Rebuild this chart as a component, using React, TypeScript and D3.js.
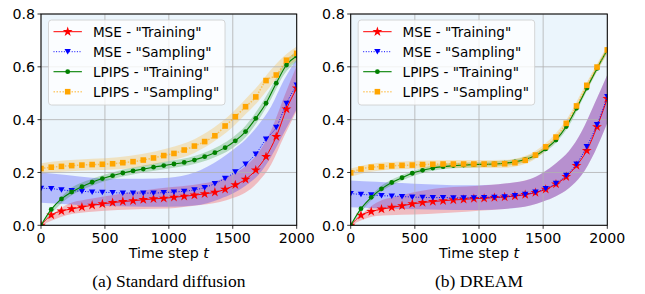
import React from "react";
import * as d3 from "d3";

const T = [0, 80, 160, 240, 320, 400, 480, 560, 640, 720, 800, 880, 960, 1040, 1120, 1200, 1280, 1360, 1440, 1520, 1600, 1680, 1760, 1840, 1920, 2000];

const L_MSE_TRAIN = [0.0, 0.039, 0.054, 0.062, 0.069, 0.076, 0.081, 0.086, 0.090, 0.093, 0.097, 0.100, 0.102, 0.106, 0.110, 0.114, 0.119, 0.125, 0.136, 0.153, 0.174, 0.209, 0.260, 0.336, 0.440, 0.519];
const L_MSE_SAMP = [0.140, 0.139, 0.134, 0.131, 0.129, 0.126, 0.125, 0.124, 0.122, 0.122, 0.122, 0.122, 0.124, 0.126, 0.129, 0.134, 0.143, 0.158, 0.178, 0.202, 0.232, 0.270, 0.326, 0.371, 0.462, 0.531];
const L_LP_TRAIN = [0.0, 0.060, 0.100, 0.126, 0.146, 0.163, 0.177, 0.188, 0.198, 0.206, 0.213, 0.220, 0.226, 0.232, 0.238, 0.247, 0.260, 0.275, 0.294, 0.320, 0.355, 0.405, 0.462, 0.538, 0.607, 0.641];
const L_LP_SAMP = [0.215, 0.220, 0.223, 0.226, 0.228, 0.230, 0.231, 0.233, 0.237, 0.241, 0.247, 0.255, 0.264, 0.272, 0.285, 0.300, 0.317, 0.339, 0.376, 0.411, 0.449, 0.486, 0.548, 0.569, 0.625, 0.651];

const R_MSE_TRAIN = [0.0, 0.038, 0.052, 0.061, 0.068, 0.074, 0.081, 0.086, 0.090, 0.093, 0.096, 0.098, 0.101, 0.102, 0.105, 0.107, 0.111, 0.116, 0.124, 0.136, 0.156, 0.184, 0.226, 0.283, 0.373, 0.480];
const R_MSE_SAMP = [0.120, 0.117, 0.115, 0.112, 0.111, 0.109, 0.107, 0.106, 0.105, 0.105, 0.104, 0.104, 0.104, 0.105, 0.106, 0.108, 0.112, 0.117, 0.126, 0.139, 0.159, 0.189, 0.232, 0.298, 0.381, 0.487];
const R_LP_TRAIN = [0.0, 0.063, 0.106, 0.138, 0.162, 0.180, 0.197, 0.208, 0.217, 0.222, 0.226, 0.228, 0.230, 0.231, 0.232, 0.235, 0.240, 0.249, 0.264, 0.289, 0.323, 0.374, 0.443, 0.519, 0.594, 0.664];
const R_LP_SAMP = [0.199, 0.213, 0.220, 0.222, 0.225, 0.227, 0.228, 0.230, 0.231, 0.232, 0.232, 0.232, 0.232, 0.232, 0.232, 0.233, 0.237, 0.246, 0.266, 0.297, 0.334, 0.386, 0.452, 0.530, 0.599, 0.664];

// shaded bands (lower / upper) on a coarser grid
const BAND_T = [0, 200, 400, 600, 800, 1000, 1200, 1400, 1500, 1600, 1700, 1800, 1900, 2000];

const L_MSE_TRAIN_LO = [0, 0.038, 0.051, 0.058, 0.062, 0.064, 0.074, 0.088, 0.103, 0.124, 0.165, 0.23, 0.335, 0.434];
const L_MSE_TRAIN_HI = [0, 0.078, 0.101, 0.118, 0.132, 0.144, 0.154, 0.172, 0.193, 0.224, 0.275, 0.36, 0.485, 0.604];
const L_MSE_SAMP_LO = [0.085, 0.08, 0.075, 0.072, 0.07, 0.07, 0.075, 0.1, 0.12, 0.15, 0.19, 0.26, 0.35, 0.44];
const L_MSE_SAMP_HI = [0.2, 0.19, 0.18, 0.176, 0.176, 0.18, 0.2, 0.25, 0.285, 0.325, 0.38, 0.45, 0.55, 0.63];
const L_LP_TRAIN_LO = [0, 0.1, 0.15, 0.18, 0.2, 0.215, 0.232, 0.266, 0.293, 0.333, 0.398, 0.478, 0.57, 0.62];
const L_LP_TRAIN_HI = [0, 0.128, 0.176, 0.206, 0.226, 0.243, 0.262, 0.302, 0.333, 0.377, 0.442, 0.522, 0.61, 0.662];
const L_LP_SAMP_LO = [0.195, 0.204, 0.208, 0.212, 0.223, 0.243, 0.274, 0.333, 0.372, 0.42, 0.47, 0.53, 0.59, 0.625];
const L_LP_SAMP_HI = [0.235, 0.246, 0.252, 0.258, 0.271, 0.293, 0.326, 0.387, 0.428, 0.478, 0.53, 0.59, 0.64, 0.677];

const R_MSE_TRAIN_LO = [0, 0.035, 0.04, 0.043, 0.048, 0.055, 0.062, 0.075, 0.09, 0.11, 0.14, 0.19, 0.275, 0.387];
const R_MSE_TRAIN_HI = [0, 0.085, 0.115, 0.135, 0.145, 0.15, 0.158, 0.175, 0.2, 0.235, 0.28, 0.355, 0.46, 0.57];
const R_MSE_SAMP_LO = [0.068, 0.065, 0.062, 0.06, 0.058, 0.058, 0.062, 0.075, 0.09, 0.11, 0.14, 0.19, 0.275, 0.387];
const R_MSE_SAMP_HI = [0.17, 0.165, 0.16, 0.155, 0.152, 0.152, 0.158, 0.175, 0.2, 0.235, 0.28, 0.355, 0.46, 0.57];
const R_LP_TRAIN_LO = [0, 0.113, 0.17, 0.203, 0.216, 0.22, 0.225, 0.246, 0.273, 0.313, 0.376, 0.47, 0.565, 0.654];
const R_LP_TRAIN_HI = [0, 0.133, 0.19, 0.223, 0.236, 0.24, 0.245, 0.266, 0.293, 0.333, 0.396, 0.49, 0.585, 0.674];
const R_LP_SAMP_LO = [0.185, 0.206, 0.212, 0.215, 0.217, 0.217, 0.218, 0.241, 0.273, 0.319, 0.385, 0.475, 0.565, 0.649];
const R_LP_SAMP_HI = [0.215, 0.236, 0.242, 0.245, 0.247, 0.247, 0.248, 0.271, 0.303, 0.349, 0.415, 0.505, 0.595, 0.679];

const X_TICKS = [0, 500, 1000, 1500, 2000];
const Y_TICKS = [0.0, 0.2, 0.4, 0.6, 0.8];
const LEGEND_LABELS = ['MSE - "Training"', 'MSE - "Sampling"', 'LPIPS - "Training"', 'LPIPS - "Sampling"'];
const CAPTIONS = ["(a) Standard diffusion", "(b) DREAM"];

type Style = {
  color: string;
  dash?: string;
  width: number;
  lineOpacity: number;
  marker: "star" | "tri" | "circle" | "square";
};

const STYLES: Style[] = [
  { color: "#ff0000", width: 1, lineOpacity: 1, marker: "star" },
  { color: "#0000ff", width: 1, lineOpacity: 1, dash: "1,1.6", marker: "tri" },
  { color: "#008000", width: 1.1, lineOpacity: 1, marker: "circle" },
  { color: "#ffa500", width: 1.5, lineOpacity: 0.55, dash: "1.5,1.5", marker: "square" },
];

const starPath = d3.symbol().type(d3.symbolStar).size(30)()!;

function Marker({ kind, x, y, color }: { kind: Style["marker"]; x: number; y: number; color: string }) {
  if (kind === "star") return <path d={starPath} transform={`translate(${x},${y})`} fill={color} />;
  if (kind === "tri") return <path d="M-3.2,-2.6L3.2,-2.6L0,2.9Z" transform={`translate(${x},${y})`} fill={color} />;
  if (kind === "circle") return <circle cx={x} cy={y} r={2.4} fill={color} />;
  return <rect x={x - 2.8} y={y - 2.8} width={5.6} height={5.6} fill={color} />;
}

type PanelData = {
  lines: number[][];
  lo: number[][];
  hi: number[][];
};

const PANELS: PanelData[] = [
  {
    lines: [L_MSE_TRAIN, L_MSE_SAMP, L_LP_TRAIN, L_LP_SAMP],
    lo: [L_MSE_TRAIN_LO, L_MSE_SAMP_LO, L_LP_TRAIN_LO, L_LP_SAMP_LO],
    hi: [L_MSE_TRAIN_HI, L_MSE_SAMP_HI, L_LP_TRAIN_HI, L_LP_SAMP_HI],
  },
  {
    lines: [R_MSE_TRAIN, R_MSE_SAMP, R_LP_TRAIN, R_LP_SAMP],
    lo: [R_MSE_TRAIN_LO, R_MSE_SAMP_LO, R_LP_TRAIN_LO, R_LP_SAMP_LO],
    hi: [R_MSE_TRAIN_HI, R_MSE_SAMP_HI, R_LP_TRAIN_HI, R_LP_SAMP_HI],
  },
];

const FONT = "'DejaVu Sans', sans-serif";
const FS = 14.2;
const FS_LEG = 13.6;

function Panel({ idx, left, right }: { idx: number; left: number; right: number }) {
  const top = 14;
  const bottom = 225.3;
  const x = d3.scaleLinear().domain([0, 2000]).range([left, right]);
  const y = d3.scaleLinear().domain([0, 0.8]).range([bottom, top]);
  const data = PANELS[idx];
  const clipId = `clip${idx}`;
  const line = d3
    .line<number>()
    .x((_, i) => x(T[i]))
    .y((d) => y(d))
    .curve(d3.curveMonotoneX);
  const area = (lo: number[], hi: number[]) =>
    d3
      .area<number>()
      .x((_, i) => x(BAND_T[i]))
      .y0((_, i) => y(lo[i]))
      .y1((_, i) => y(hi[i]))
      .curve(d3.curveMonotoneX)(lo) || "";
  const legX = left + 7.5;
  const legY = 20;
  const cx = (left + right) / 2;
  return (
    <g>
      <defs>
        <clipPath id={clipId}>
          <rect x={left} y={top} width={right - left} height={bottom - top} />
        </clipPath>
      </defs>
      <rect x={left} y={top} width={right - left} height={bottom - top} fill="#ebf5fc" />
      <g clipPath={`url(#${clipId})`}>
        {data.lines.map((_, k) => (
          <path key={k} d={area(data.lo[k], data.hi[k])} fill={STYLES[k].color} fillOpacity={0.23} />
        ))}
      </g>
      {X_TICKS.map((t) => (
        <line key={"gx" + t} x1={x(t)} x2={x(t)} y1={top} y2={bottom} stroke="#b0b0b0" strokeWidth={0.8} />
      ))}
      {Y_TICKS.map((v) => (
        <line key={"gy" + v} x1={left} x2={right} y1={y(v)} y2={y(v)} stroke="#b0b0b0" strokeWidth={0.8} />
      ))}
      <g clipPath={`url(#${clipId})`}>
        {data.lines.map((vals, k) => (
          <g key={k}>
            <path
              d={line(vals) || ""}
              fill="none"
              stroke={STYLES[k].color}
              strokeWidth={STYLES[k].width}
              strokeOpacity={STYLES[k].lineOpacity}
              strokeDasharray={STYLES[k].dash}
            />
            {vals.map((v, i) => (
              <Marker key={i} kind={STYLES[k].marker} x={x(T[i])} y={y(v)} color={STYLES[k].color} />
            ))}
          </g>
        ))}
      </g>
      <rect x={left} y={top} width={right - left} height={bottom - top} fill="none" stroke="#000" strokeWidth={1} />
      {X_TICKS.map((t) => (
        <g key={"xt" + t}>
          <line x1={x(t)} x2={x(t)} y1={bottom} y2={bottom + 3.5} stroke="#000" strokeWidth={0.8} />
          <text x={x(t)} y={243.4} textAnchor="middle" fontFamily={FONT} fontSize={FS} fill="#000">
            {t}
          </text>
        </g>
      ))}
      {Y_TICKS.map((v) => (
        <g key={"yt" + v}>
          <line x1={left - 3.5} x2={left} y1={y(v)} y2={y(v)} stroke="#000" strokeWidth={0.8} />
          <text x={left - 6} y={y(v) + 5.2} textAnchor="end" fontFamily={FONT} fontSize={FS} fill="#000">
            {v.toFixed(1)}
          </text>
        </g>
      ))}
      <text x={cx} y={258} textAnchor="middle" fontFamily={FONT} fontSize={FS} fill="#000">
        Time step <tspan fontStyle="italic">t</tspan>
      </text>
      <text x={cx} y={287} textAnchor="middle" fontFamily="'Liberation Serif', 'Times New Roman', serif" fontSize={17.5} fill="#000">
        {CAPTIONS[idx]}
      </text>
      <rect x={legX} y={legY} width={176.5} height={85} rx={3} fill="#ffffff" fillOpacity={0.8} stroke="#cccccc" strokeWidth={0.8} />
      {LEGEND_LABELS.map((lab, k) => {
        const ly = legY + 11.7 + k * 20;
        const s = STYLES[k];
        return (
          <g key={lab}>
            <line
              x1={legX + 5}
              x2={legX + 33.4}
              y1={ly}
              y2={ly}
              stroke={s.color}
              strokeWidth={s.width}
              strokeOpacity={s.lineOpacity}
              strokeDasharray={s.dash}
            />
            <Marker kind={s.marker} x={legX + 19.2} y={ly} color={s.color} />
            <text x={legX + 44.4} y={ly + 5} fontFamily={FONT} fontSize={FS_LEG} fill="#000">
              {lab}
            </text>
          </g>
        );
      })}
    </g>
  );
}

export default function App() {
  return (
    <svg width={645} height={294} style={{ position: "absolute", left: 0, top: 0, background: "#fff" }}>
      <rect width={645} height={294} fill="#fff" />
      <Panel idx={0} left={41} right={296.7} />
      <Panel idx={1} left={350.7} right={607.3} />
    </svg>
  );
}
